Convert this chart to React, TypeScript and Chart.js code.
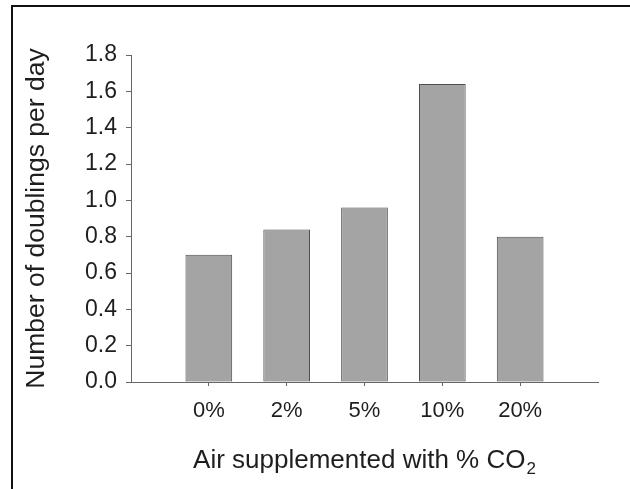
import React, { useEffect, useRef } from "react";
import { Chart, registerables } from "chart.js";

Chart.register(...registerables);

const categories: string[] = ["0%", "2%", "5%", "10%", "20%"];
const doublingsPerDay: number[] = [0.7, 0.84, 0.96, 1.64, 0.8];
const yTicks: number[] = [0, 0.2, 0.4, 0.6, 0.8, 1.0, 1.2, 1.4, 1.6, 1.8];
const xTitleMain = "Air supplemented with % CO";
const xTitleSub = "2";
const yTitle = "Number of doublings per day";

const FONT = "'Liberation Sans', Arial, Helvetica, sans-serif";

const xTitlePlugin = {
  id: "xTitleWithSubscript",
  afterDraw(chart: any) {
    const xs = chart.scales.x;
    const ctx = chart.ctx as CanvasRenderingContext2D;
    ctx.save();
    ctx.fillStyle = "#1e1e1e";
    ctx.textBaseline = "alphabetic";
    ctx.textAlign = "left";
    ctx.font = `26px ${FONT}`;
    const w1 = ctx.measureText(xTitleMain).width;
    ctx.font = `17px ${FONT}`;
    const w2 = ctx.measureText(xTitleSub).width;
    const cx = (xs.left + xs.right) / 2;
    const start = cx - (w1 + w2 + 1) / 2;
    const baseline = xs.bottom - 21;
    ctx.font = `26px ${FONT}`;
    ctx.fillText(xTitleMain, start, baseline);
    ctx.font = `17px ${FONT}`;
    ctx.fillText(xTitleSub, start + w1 + 1, baseline + 6);
    ctx.restore();
  },
};

export default function App() {
  const canvasRef = useRef<HTMLCanvasElement | null>(null);

  useEffect(() => {
    const canvas = canvasRef.current;
    if (!canvas) return;
    const chart = new Chart(canvas, {
      type: "bar",
      data: {
        datasets: [
          {
            data: categories.map((c, i) => ({ x: i + 1, y: doublingsPerDay[i] })),
            backgroundColor: "#a4a4a4",
            borderColor: "#4e4e4e",
            borderWidth: 1,
            borderSkipped: false,
            categoryPercentage: 1,
            barPercentage: 0.6,
          },
        ],
      },
      options: {
        responsive: false,
        animation: false,
        events: [],
        layout: { padding: { left: 0, top: 55, right: 32, bottom: 0 } },
        plugins: {
          legend: { display: false },
          tooltip: { enabled: false },
          title: { display: false },
        },
        scales: {
          x: {
            type: "linear",
            offset: false,
            min: 0,
            max: categories.length + 1,
            afterFit: (scale: any) => {
              scale.height = 107;
            },
            afterBuildTicks: (scale: any) => {
              scale.ticks = categories.map((c, i) => ({ value: i + 1 }));
            },
            ticks: {
              stepSize: 1,
              autoSkip: false,
              maxRotation: 0,
              padding: 12,
              color: "#1e1e1e",
              font: { family: FONT, size: 22 },
              callback: (v: any) => categories[Number(v) - 1] ?? "",
            },
            grid: {
              display: true,
              offset: false,
              drawOnChartArea: false,
              drawTicks: true,
              tickLength: 4,
              tickColor: "#666",
            },
            border: { display: true, color: "#666", width: 1 },
            title: { display: false },
          },
          y: {
            type: "linear",
            min: 0,
            max: 1.8,
            afterFit: (scale: any) => {
              scale.width = 131;
            },
            afterBuildTicks: (scale: any) => {
              scale.ticks = yTicks.map((v) => ({ value: v }));
            },
            ticks: {
              stepSize: 0.2,
              padding: 9,
              color: "#1e1e1e",
              font: { family: FONT, size: 23 },
              callback: (v: any) => Number(v).toFixed(1),
            },
            grid: {
              display: true,
              drawOnChartArea: false,
              drawTicks: true,
              tickLength: 5,
              tickColor: "#666",
            },
            border: { display: true, color: "#666", width: 1 },
            title: {
              display: true,
              text: yTitle,
              color: "#1e1e1e",
              font: { family: FONT, size: 26.5 },
              padding: { top: 21, bottom: 0 },
            },
          },
        },
      },
      plugins: [xTitlePlugin],
    });
    return () => chart.destroy();
  }, []);

  return (
    <div
      style={{
        position: "fixed",
        left: 0,
        top: 0,
        width: 630,
        height: 489,
        overflow: "hidden",
        background: "#fff",
      }}
    >
      <div
        style={{
          position: "absolute",
          left: 11,
          top: 5,
          right: -10,
          bottom: -10,
          borderTop: "2px solid #111",
          borderLeft: "2px solid #111",
        }}
      />
      <canvas
        ref={canvasRef}
        width={630}
        height={489}
        style={{ position: "absolute", left: 0, top: 0, width: 630, height: 489 }}
      />
    </div>
  );
}
